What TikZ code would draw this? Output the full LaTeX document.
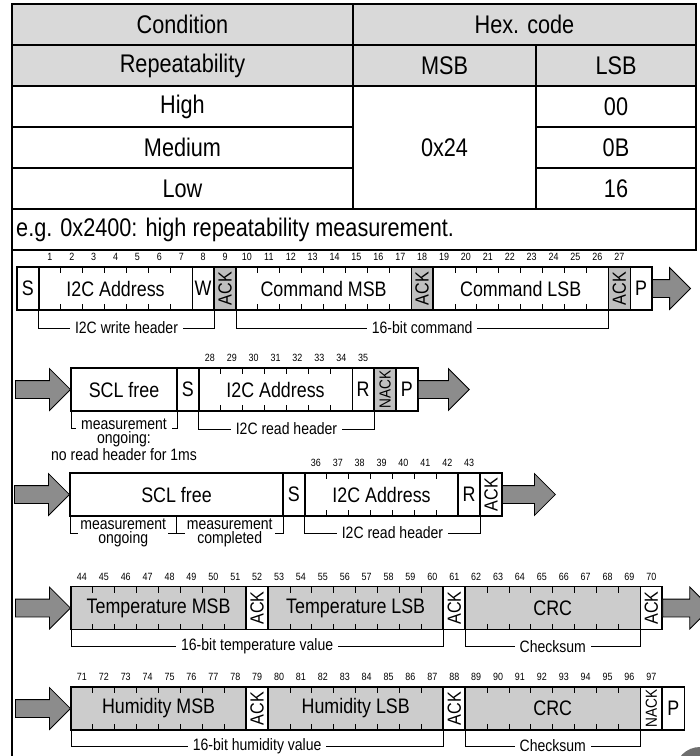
\documentclass[tikz,border=0pt]{standalone}
\usepackage{fontspec}
\setmainfont{Liberation Sans}[FakeStretch=0.85]
\usepackage{graphicx}
\usetikzlibrary{positioning,calc,shapes.arrows}
\definecolor{headgray}{HTML}{D9D9D9}
\definecolor{datagray}{HTML}{CCCCCC}
\definecolor{ackgray}{HTML}{BFBFBF}
\definecolor{arrowgray}{HTML}{8C8C8C}
\definecolor{dotgray}{HTML}{6E6E6E}
\newcommand{\tblfont}{\fontsize{25.5}{28}\selectfont}
\newcommand{\lblfont}{\fontsize{21}{24}\selectfont}
\newcommand{\ackfont}{\fontsize{19}{20}\selectfont}
\newcommand{\nackfont}{\fontsize{16}{17}\selectfont}
\newcommand{\numfont}{\fontsize{10.5}{11}\selectfont}
\newcommand{\brfont}{\fontsize{16.5}{14}\selectfont}
\def\bitw{21.9}
% bit numbers above a field: node, first number, count
\newcommand{\bitnums}[3]{%
  \foreach \k in {1,...,#3}{%
    \pgfmathtruncatemacro{\bnum}{#2+\k-1}%
    \node[bitnum] at ($(#1.north west)+({(\k-0.5)*\bitw},10)$) {\bnum};
  }}
% small ticks between the bits of a field
\newcommand{\tickmarks}[2]{%
  \foreach \k in {2,...,#2}{%
    \draw[tick] ($(#1.north west)+({(\k-1)*\bitw},0)$) -- ++(0,-6);
    \draw[tick] ($(#1.south west)+({(\k-1)*\bitw},0)$) -- ++(0,6);
  }}
\tikzset{
    field/.style={draw=black,line width=1.3pt,minimum height=43pt,
      inner sep=0pt,outer sep=0pt,font=\lblfont},
    nbits/.style={minimum width={#1*\bitw}},
    datafield/.style={field,fill=datagray},
    ackfield/.style={field,fill=ackgray,font=\ackfont},
    ackwhite/.style={field,fill=white,font=\ackfont,line width=1.8pt},
    bitnum/.style={font=\numfont,inner sep=0pt},
    tick/.style={line width=0.9pt},
    bracket/.style={line width=0.9pt},
    brlabel/.style={font=\brfont,fill=white,inner xsep=5pt,inner ysep=1pt,align=center},
    bigarrow/.style={single arrow,draw=black,fill=arrowgray,line width=0.8pt,
      inner xsep=0pt,inner ysep=8.5pt,single arrow head extend=12pt},
    tblline/.style={line width=1.8pt},
    tbltext/.style={font=\tblfont,inner sep=0pt}
}

\begin{document}
\begin{tikzpicture}[x=1pt,y=1pt]
  \useasboundingbox (0,0) rectangle (700,-756);
  % command table
  \fill[headgray] (12,-4) rectangle (696,-86);
  \draw[tblline] (12,-4) rectangle (696,-250);
  \draw[tblline] (12,-250) -- (12,-760);
  \draw[tblline] (12,-45) -- (696,-45);
  \draw[tblline] (12,-86) -- (696,-86);
  \draw[tblline] (12,-127) -- (353,-127) (536,-127) -- (696,-127);
  \draw[tblline] (12,-168) -- (353,-168) (536,-168) -- (696,-168);
  \draw[tblline] (12,-209) -- (696,-209);
  \draw[tblline] (353,-4) -- (353,-209);
  \draw[tblline] (536,-45) -- (536,-209);
  \node[tbltext] (hcond) at (182.5,-24.5) {Condition};
  \node[tbltext] (hhex) at (524.5,-24.5) {Hex. code};
  \node[tbltext] (hrep) at (182.5,-65.5) {Repeatability};
  \node[tbltext] (hmsb) at (444.5,-65.5) {MSB};
  \node[tbltext] (hlsb) at (616,-65.5) {LSB};
  \node[tbltext] (rhigh) at (182.5,-106.5) {High};
  \node[tbltext] (rmed) at (182.5,-147.5) {Medium};
  \node[tbltext] (rlow) at (182.5,-188.5) {Low};
  \node[tbltext] (vmsb) at (444.5,-147.5) {0x24};
  \node[tbltext] (vhigh) at (616,-106.5) {00};
  \node[tbltext] (vmed) at (616,-147.5) {0B};
  \node[tbltext] (vlow) at (616,-188.5) {16};
  \node[tbltext,anchor=west] (example) at (16,-229.5) {e.g. 0x2400: high repeatability measurement.};

  % write header + command
  \node[field,nbits=1,anchor=west] (s1) at (17,-288.5) {S};
  \node[field,nbits=7,right=0pt of s1] (adr1) {I2C Address};
  \node[field,nbits=1,right=0pt of adr1] (w1) {W};
  \node[ackfield,nbits=1,right=0pt of w1] (ack1a) {\rotatebox{90}{ACK}};
  \node[field,nbits=8,right=0pt of ack1a] (cmsb) {Command MSB};
  \node[ackfield,nbits=1,right=0pt of cmsb] (ack1b) {\rotatebox{90}{ACK}};
  \node[field,nbits=8,right=0pt of ack1b] (clsb) {Command LSB};
  \node[ackfield,nbits=1,right=0pt of clsb] (ack1c) {\rotatebox{90}{ACK}};
  \node[field,nbits=1,right=0pt of ack1c] (p1) {P};
  \node[bigarrow,minimum height=38,anchor=west] (out1) at (p1.east) {};
  \tickmarks{adr1}{7} \tickmarks{cmsb}{8} \tickmarks{clsb}{8}
  \bitnums{adr1}{1}{7} \bitnums{w1}{8}{1} \bitnums{ack1a}{9}{1}
  \bitnums{cmsb}{10}{8} \bitnums{ack1b}{18}{1}
  \bitnums{clsb}{19}{8} \bitnums{ack1c}{27}{1}
  \draw[bracket] (adr1.south west) -- ++(0,-18) -| (w1.south east);
  \node[brlabel] (wrhead) at ($(adr1.south west)!0.5!(w1.south east)+(0,-18)$) {I2C write header};
  \draw[bracket] (cmsb.south west) -- ++(0,-18) -| (clsb.south east);
  \node[brlabel] (cmd16) at ($(cmsb.south west)!0.5!(clsb.south east)+(0,-18)$) {16-bit command};

  % read header, not acknowledged
  \node[field,minimum width=106,anchor=west] (free2) at (71,-389.5) {SCL free};
  \node[field,nbits=1,right=0pt of free2] (s2) {S};
  \node[field,nbits=7,right=0pt of s2] (adr2) {I2C Address};
  \node[field,nbits=1,right=0pt of adr2] (r2) {R};
  \node[ackfield,nbits=1,right=0pt of r2,font=\nackfont] (nack2) {\rotatebox{90}{NACK}};
  \node[field,nbits=1,right=0pt of nack2] (p2) {P};
  \node[bigarrow,minimum height=55,anchor=east] (in2) at (free2.west) {};
  \node[bigarrow,minimum height=51,anchor=west] (out2) at (p2.east) {};
  \tickmarks{adr2}{7}
  \bitnums{adr2}{28}{7} \bitnums{r2}{35}{1}
  \draw[bracket] (free2.south west) -- ++(0,-17) -| (free2.south east);
  \node[brlabel,inner ysep=0pt] (ongo2) at ($(free2.south west)!0.5!(free2.south east)+(0,-13)$) {measurement};
  \node[font=\brfont,align=center,inner sep=0pt,below=2pt of ongo2] (nohead) {ongoing:\\no read header for 1ms};
  \draw[bracket] (adr2.south west) -- ++(0,-18) -| (r2.south east);
  \node[brlabel] (rdhead2) at ($(adr2.south west)!0.5!(r2.south east)+(0,-18)$) {I2C read header};

  % read header, acknowledged
  \node[field,minimum width=213,anchor=west] (free3) at (70,-494.5) {SCL free};
  \node[field,nbits=1,right=0pt of free3] (s3) {S};
  \node[field,nbits=7,right=0pt of s3] (adr3) {I2C Address};
  \node[field,nbits=1,right=0pt of adr3,line width=1.8pt] (r3) {R};
  \node[ackwhite,nbits=1,right=0pt of r3] (ack3) {\rotatebox{90}{ACK}};
  \node[bigarrow,minimum height=55,anchor=east] (in3) at (free3.west) {};
  \node[bigarrow,minimum height=53,anchor=west] (out3) at (ack3.east) {};
  \tickmarks{adr3}{7}
  \bitnums{adr3}{36}{7} \bitnums{r3}{43}{1}
  \coordinate (mid3) at ($(free3.south west)!0.5!(free3.south east)$);
  \draw[bracket] (free3.south west) -- ++(0,-17) -| (mid3);
  \draw[bracket] (mid3) -- ++(0,-17) -| (free3.south east);
  \node[brlabel,inner xsep=2pt] (ongo3) at ($(free3.south west)!0.5!(mid3)+(0,-17)$) {measurement\\ongoing};
  \node[brlabel,inner xsep=2pt] (done3) at ($(mid3)!0.5!(free3.south east)+(0,-17)$) {measurement\\completed};
  \draw[bracket] (adr3.south west) -- ++(0,-17) -| (r3.south east);
  \node[brlabel] (rdhead3) at ($(adr3.south west)!0.5!(r3.south east)+(0,-17)$) {I2C read header};

  % temperature data
  \node[datafield,nbits=8,anchor=west] (tmsb) at (71,-608) {Temperature MSB};
  \node[ackwhite,nbits=1,right=0pt of tmsb] (ack4a) {\rotatebox{90}{ACK}};
  \node[datafield,nbits=8,right=0pt of ack4a] (tlsb) {Temperature LSB};
  \node[ackwhite,nbits=1,right=0pt of tlsb] (ack4b) {\rotatebox{90}{ACK}};
  \node[datafield,nbits=8,right=0pt of ack4b] (crc4) {CRC};
  \node[ackwhite,nbits=1,right=0pt of crc4] (ack4c) {\rotatebox{90}{ACK}};
  \node[bigarrow,minimum height=55,anchor=east] (in4) at (tmsb.west) {};
  \node[bigarrow,minimum height=48,anchor=west] (out4) at (ack4c.east) {};
  \tickmarks{tmsb}{8} \tickmarks{tlsb}{8} \tickmarks{crc4}{8}
  \bitnums{tmsb}{44}{8} \bitnums{ack4a}{52}{1} \bitnums{tlsb}{53}{8}
  \bitnums{ack4b}{61}{1} \bitnums{crc4}{62}{8} \bitnums{ack4c}{70}{1}
  \draw[bracket] (tmsb.south west) -- ++(0,-17) -| (tlsb.south east);
  \node[brlabel] (tval) at ($(tmsb.south west)!0.5!(tlsb.south east)+(0,-17)$) {16-bit temperature value};
  \draw[bracket] (crc4.south west) -- ++(0,-17) -| (crc4.south east);
  \node[brlabel] (tsum) at ($(crc4.south west)!0.5!(crc4.south east)+(0,-17)$) {Checksum};

  % humidity data
  \node[datafield,nbits=8,anchor=west] (hmsb) at (71,-708.5) {Humidity MSB};
  \node[ackwhite,nbits=1,right=0pt of hmsb] (ack5a) {\rotatebox{90}{ACK}};
  \node[datafield,nbits=8,right=0pt of ack5a] (hlsb) {Humidity LSB};
  \node[ackwhite,nbits=1,right=0pt of hlsb] (ack5b) {\rotatebox{90}{ACK}};
  \node[datafield,nbits=8,right=0pt of ack5b] (crc5) {CRC};
  \node[ackwhite,nbits=1,right=0pt of crc5,font=\nackfont] (nack5) {\rotatebox{90}{NACK}};
  \node[field,nbits=1,right=0pt of nack5] (p5) {P};
  \node[bigarrow,minimum height=55,anchor=east] (in5) at (hmsb.west) {};
  \tickmarks{hmsb}{8} \tickmarks{hlsb}{8} \tickmarks{crc5}{8}
  \bitnums{hmsb}{71}{8} \bitnums{ack5a}{79}{1} \bitnums{hlsb}{80}{8}
  \bitnums{ack5b}{88}{1} \bitnums{crc5}{89}{8} \bitnums{nack5}{97}{1}
  \draw[bracket] (hmsb.south west) -- ++(0,-16) -| (hlsb.south east);
  \node[brlabel] (hval) at ($(hmsb.south west)!0.5!(hlsb.south east)+(0,-16)$) {16-bit humidity value};
  \draw[bracket] (crc5.south west) -- ++(0,-16) -| (crc5.south east);
  \node[brlabel] (hsum) at ($(crc5.south west)!0.5!(crc5.south east)+(0,-16)$) {Checksum};

  \fill[dotgray] (700,-772) circle (25);
\end{tikzpicture}
\end{document}
